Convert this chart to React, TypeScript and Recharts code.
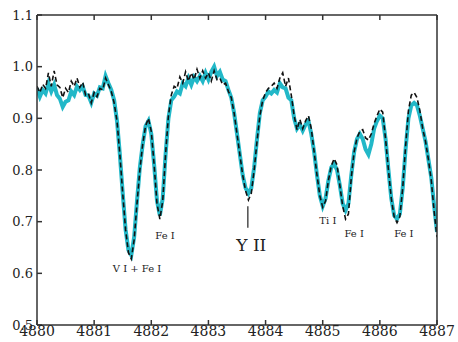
import React from "react";
import { LineChart, Line, XAxis, YAxis, ReferenceDot, ReferenceLine } from "recharts";

// wavelength grid (Angstrom)
const wavelengths = [
  4880.00, 4880.05, 4880.10, 4880.15, 4880.20, 4880.25, 4880.30, 4880.35, 4880.40, 4880.45,
  4880.50, 4880.55, 4880.60, 4880.65, 4880.70, 4880.75, 4880.80, 4880.85, 4880.90, 4880.95,
  4881.00, 4881.05, 4881.10, 4881.15, 4881.20, 4881.25, 4881.30, 4881.35, 4881.40, 4881.45,
  4881.50, 4881.55, 4881.60, 4881.65, 4881.70, 4881.75, 4881.80, 4881.85, 4881.90, 4881.95,
  4882.00, 4882.05, 4882.10, 4882.15, 4882.20, 4882.25, 4882.30, 4882.35, 4882.40, 4882.45,
  4882.50, 4882.55, 4882.60, 4882.65, 4882.70, 4882.75, 4882.80, 4882.85, 4882.90, 4882.95,
  4883.00, 4883.05, 4883.10, 4883.15, 4883.20, 4883.25, 4883.30, 4883.35, 4883.40, 4883.45,
  4883.50, 4883.55, 4883.60, 4883.65, 4883.70, 4883.75, 4883.80, 4883.85, 4883.90, 4883.95,
  4884.00, 4884.05, 4884.10, 4884.15, 4884.20, 4884.25, 4884.30, 4884.35, 4884.40, 4884.45,
  4884.50, 4884.55, 4884.60, 4884.65, 4884.70, 4884.75, 4884.80, 4884.85, 4884.90, 4884.95,
  4885.00, 4885.05, 4885.10, 4885.15, 4885.20, 4885.25, 4885.30, 4885.35, 4885.40, 4885.45,
  4885.50, 4885.55, 4885.60, 4885.65, 4885.70, 4885.75, 4885.80, 4885.85, 4885.90, 4885.95,
  4886.00, 4886.05, 4886.10, 4886.15, 4886.20, 4886.25, 4886.30, 4886.35, 4886.40, 4886.45,
  4886.50, 4886.55, 4886.60, 4886.65, 4886.70, 4886.75, 4886.80, 4886.85, 4886.90, 4886.95,
  4887.00,
];

// observed spectrum (cyan)
const observed = [
  0.958, 0.942, 0.955, 0.948, 0.968, 0.952, 0.965, 0.945, 0.938, 0.922,
  0.932, 0.935, 0.952, 0.945, 0.962, 0.955, 0.962, 0.945, 0.944, 0.930,
  0.948, 0.944, 0.960, 0.958, 0.982, 0.968, 0.955, 0.935, 0.895, 0.830,
  0.755, 0.685, 0.645, 0.635, 0.670, 0.740, 0.805, 0.850, 0.885, 0.895,
  0.870, 0.810, 0.740, 0.712, 0.745, 0.830, 0.900, 0.935, 0.942, 0.952,
  0.948, 0.968, 0.962, 0.978, 0.965, 0.980, 0.972, 0.982, 0.972, 0.988,
  0.975, 0.990, 1.000, 0.982, 0.990, 0.975, 0.972, 0.955, 0.940, 0.910,
  0.870, 0.830, 0.790, 0.765, 0.755, 0.765, 0.805, 0.860, 0.910, 0.935,
  0.942, 0.952, 0.948, 0.955, 0.950, 0.968, 0.960, 0.958, 0.940, 0.935,
  0.900, 0.880, 0.888, 0.876, 0.888, 0.895, 0.870, 0.835, 0.790, 0.750,
  0.730, 0.745, 0.780, 0.805, 0.812, 0.800, 0.770, 0.735, 0.722, 0.735,
  0.790, 0.835, 0.860, 0.870, 0.860, 0.840, 0.830, 0.850, 0.880, 0.895,
  0.905, 0.900, 0.860, 0.800, 0.745, 0.712, 0.705, 0.715, 0.765, 0.840,
  0.900, 0.925, 0.930, 0.925, 0.905, 0.880, 0.855, 0.820, 0.785, 0.730,
  0.680,
];

// synthetic spectrum (black dashed)
const model = [
  0.962, 0.950, 0.966, 0.958, 0.988, 0.962, 0.992, 0.965, 0.960, 0.940,
  0.958, 0.950, 0.972, 0.962, 0.978, 0.960, 0.970, 0.945, 0.948, 0.930,
  0.950, 0.942, 0.958, 0.955, 0.978, 0.965, 0.952, 0.930, 0.895, 0.830,
  0.755, 0.685, 0.640, 0.628, 0.665, 0.735, 0.800, 0.850, 0.885, 0.900,
  0.875, 0.810, 0.735, 0.705, 0.740, 0.830, 0.905, 0.945, 0.962, 0.958,
  0.980, 0.968, 0.990, 0.972, 0.988, 0.975, 0.995, 0.978, 0.992, 0.978,
  0.988, 0.972, 0.992, 0.975, 0.978, 0.965, 0.968, 0.952, 0.940, 0.910,
  0.870, 0.830, 0.790, 0.760, 0.742, 0.755, 0.800, 0.855, 0.905, 0.935,
  0.950, 0.958, 0.962, 0.968, 0.958, 0.978, 0.988, 0.962, 0.978, 0.945,
  0.905, 0.878, 0.898, 0.880, 0.895, 0.905, 0.880, 0.835, 0.790, 0.750,
  0.728, 0.740, 0.780, 0.808, 0.822, 0.810, 0.770, 0.730, 0.705, 0.715,
  0.785, 0.835, 0.862, 0.875, 0.878, 0.862, 0.858, 0.870, 0.890, 0.905,
  0.918, 0.912, 0.860, 0.800, 0.745, 0.710, 0.698, 0.710, 0.765, 0.845,
  0.915, 0.945, 0.950, 0.940, 0.915, 0.880, 0.855, 0.820, 0.780, 0.720,
  0.670,
];

const xTicks = [4880, 4881, 4882, 4883, 4884, 4885, 4886, 4887];
const yTicks = [0.5, 0.6, 0.7, 0.8, 0.9, 1.0, 1.1];

// line identifications
const lineNames = ["V I + Fe I", "Fe I", "Ti I", "Fe I", "Fe I"];
const lineX = [4881.75, 4882.24, 4885.09, 4885.55, 4886.42];
const lineY = [0.610, 0.674, 0.703, 0.678, 0.678];

const data = wavelengths.map((w, i) => ({ w, obs: observed[i], mod: model[i] }));

const font = "'DejaVu Serif', serif";
const axisColor = "#333";

export default function App() {
  return (
    <div style={{ width: 458, height: 342 }}>
      <style>{`body{margin:0}`}</style>
      <LineChart
        width={458}
        height={342}
        data={data}
        margin={{ top: 14, right: 20, left: 0, bottom: 0 }}
      >
        <XAxis
          dataKey="w"
          type="number"
          domain={[4880, 4887]}
          ticks={xTicks}
          height={17}
          tickSize={-5}
          tickMargin={6}
          interval={0}
          stroke={axisColor}
          strokeWidth={1.5}
          tick={{ fontSize: 14, fill: "#222", fontFamily: font }}
          allowDataOverflow
        />
        <XAxis
          xAxisId="top"
          orientation="top"
          dataKey="w"
          type="number"
          domain={[4880, 4887]}
          ticks={xTicks}
          height={1}
          tickSize={-5}
          interval={0}
          stroke={axisColor}
          strokeWidth={1.5}
          tickFormatter={() => ""}
        />
        <YAxis
          type="number"
          domain={[0.5, 1.1]}
          ticks={yTicks}
          width={37}
          tickSize={-5}
          tickMargin={9}
          interval={0}
          stroke={axisColor}
          strokeWidth={1.5}
          tickFormatter={(v: number) => v.toFixed(1)}
          tick={{ fontSize: 13, fill: "#222", fontFamily: font }}
          allowDataOverflow
        />
        <YAxis
          yAxisId="right"
          orientation="right"
          type="number"
          domain={[0.5, 1.1]}
          ticks={yTicks}
          width={1}
          tickSize={-5}
          interval={0}
          stroke={axisColor}
          strokeWidth={1.5}
          tickFormatter={() => ""}
        />
        <Line
          dataKey="obs"
          stroke="#22b8c8"
          strokeWidth={4}
          dot={false}
          type="linear"
          isAnimationActive={false}
        />
        <Line
          dataKey="mod"
          stroke="#111"
          strokeWidth={1.6}
          strokeDasharray="5 3"
          dot={false}
          type="linear"
          isAnimationActive={false}
        />
        <ReferenceLine
          segment={[
            { x: 4883.69, y: 0.730 },
            { x: 4883.69, y: 0.688 },
          ]}
          stroke="#222"
          strokeWidth={1.2}
        />
        <ReferenceDot
          x={4883.75}
          y={0.655}
          r={0}
          fill="none"
          stroke="none"
          label={{ value: "Y II", position: "center", fontSize: 17, fill: "#222", fontFamily: font }}
        />
        {lineNames.map((name, i) => (
          <ReferenceDot
            key={i}
            x={lineX[i]}
            y={lineY[i]}
            r={0}
            fill="none"
            stroke="none"
            label={{ value: name, position: "center", fontSize: 10, fill: "#222", fontFamily: font }}
          />
        ))}
      </LineChart>
    </div>
  );
}
